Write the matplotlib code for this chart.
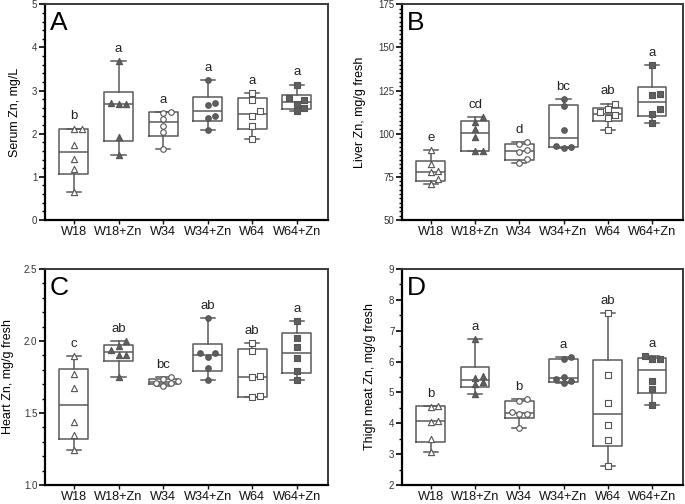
import numpy as np
import matplotlib
matplotlib.use("Agg")
import matplotlib.pyplot as plt
from matplotlib.ticker import MultipleLocator

plt.rcParams["font.family"] = ["Liberation Sans", "DejaVu Sans"]

groups = ["W18", "W18+Zn", "W34", "W34+Zn", "W64", "W64+Zn"]

# values (6 birds per group)
serum = [
    [0.66, 1.19, 1.42, 1.73, 2.10, 2.12],
    [1.51, 1.93, 2.69, 2.70, 2.72, 3.69],
    [1.64, 2.04, 2.19, 2.35, 2.49, 2.51],
    [2.09, 2.37, 2.40, 2.67, 2.72, 3.25],
    [1.87, 2.18, 2.40, 2.53, 2.78, 2.95],
    [2.52, 2.60, 2.69, 2.79, 2.82, 3.14],
]
serum_letters = ["b", "a", "a", "a", "a", "a"]

liver = [
    [70.6, 73.5, 77.8, 78.2, 82.3, 90.8],
    [89.9, 90.0, 98.2, 103.0, 106.7, 109.6],
    [83.3, 85.2, 89.6, 90.7, 93.8, 95.3],
    [92.0, 92.1, 93.0, 102.2, 115.8, 120.0],
    [102.1, 109.0, 111.0, 112.4, 114.2, 117.5],
    [106.3, 111.7, 114.1, 122.3, 122.9, 139.7],
]
liver_letters = ["e", "cd", "d", "bc", "ab", "a"]

heart = [
    [1.243, 1.347, 1.44, 1.671, 1.771, 1.896],
    [1.752, 1.90, 1.905, 1.938, 1.967, 2.0],
    [1.685, 1.705, 1.71, 1.72, 1.735, 1.75],
    [1.729, 1.810, 1.891, 1.915, 1.919, 2.162],
    [1.612, 1.615, 1.748, 1.757, 1.93, 1.988],
    [1.729, 1.794, 1.88, 1.96, 2.023, 2.141],
]
heart_letters = ["c", "ab", "bc", "ab", "ab", "a"]

thigh = [
    [3.08, 3.48, 4.05, 4.07, 4.54, 4.57],
    [4.94, 5.26, 5.33, 5.48, 5.53, 6.73],
    [3.84, 4.30, 4.31, 4.38, 4.72, 4.78],
    [5.30, 5.36, 5.42, 5.50, 6.07, 6.14],
    [2.63, 3.46, 3.94, 4.67, 5.56, 7.56],
    [4.59, 5.11, 5.38, 6.07, 6.09, 6.18],
]
thigh_letters = ["b", "a", "b", "a", "ab", "a"]

panels = [
    dict(tag="A", data=serum, letters=serum_letters, label="Serum Zn, mg/L",
         ylim=(0, 5), major=1, minor=0.2, fmt="{:.0f}",
         rect=[45, 4.3, 328, 220], labx=-0.085),
    dict(tag="B", data=liver, letters=liver_letters, label="Liver Zn, mg/g fresh",
         ylim=(50, 175), major=25, minor=2.5, fmt="{:.0f}",
         rect=[402, 4.3, 683, 220], labx=-0.128),
    dict(tag="C", data=heart, letters=heart_letters, label="Heart Zn, mg/g fresh",
         ylim=(1.0, 2.5), major=0.5, minor=0.1, fmt="{:.1f}",
         rect=[45, 269, 328, 485], labx=-0.111),
    dict(tag="D", data=thigh, letters=thigh_letters, label="Thigh meat Zn, mg/g fresh",
         ylim=(2, 9), major=1, minor=0.5, fmt="{:.0f}",
         rect=[402, 269, 683, 485], labx=-0.094),
]

markers = ["^", "^", "o", "o", "s", "s"]
msizes = [20, 20, 16, 16, 14, 14]
faces = ["white", "#5f5f5f", "white", "#5f5f5f", "white", "#5f5f5f"]
line_col = "#5a5a5a"

W, H = 685, 504
fig = plt.figure(figsize=(W / 100, H / 100), dpi=100)


def swarm(vals, xpx, ypx, step=0.17, dist=6.0):
    # simple beeswarm: centre first, then right, then left
    offs = np.zeros(len(vals))
    placed = []
    for i in np.argsort(vals):
        for k in [0, 1, -1, 2, -2, 3, -3]:
            dx = k * step
            ok = all(np.hypot((dx - px) * xpx, (vals[i] - py) * ypx) >= dist
                     for px, py in placed)
            if ok:
                break
        offs[i] = dx
        placed.append((dx, vals[i]))
    return offs


for p in panels:
    x0, y0, x1, y1 = p["rect"]
    ax = fig.add_axes([x0 / W, 1 - y1 / H, (x1 - x0) / W, (y1 - y0) / H])
    lo, hi = p["ylim"]
    rng = hi - lo
    pos = np.arange(len(groups))
    xlim = (-0.65, 5.7)

    stats = []
    for g, vals in zip(groups, p["data"]):
        v = np.array(vals)
        q1, med, q3 = np.percentile(v, [25, 50, 75], method="weibull")
        stats.append(dict(label=g, med=med, q1=q1, q3=q3,
                          whislo=v.min(), whishi=v.max(), fliers=[]))
    ax.bxp(stats, positions=pos, widths=0.65, capwidths=0.32, showfliers=False,
           boxprops=dict(color=line_col, lw=1.1),
           whiskerprops=dict(color=line_col, lw=1.1),
           capprops=dict(color=line_col, lw=1.1),
           medianprops=dict(color=line_col, lw=1.1))

    xpx = (x1 - x0) / (xlim[1] - xlim[0])
    ypx = (y1 - y0) / rng
    for i, vals in enumerate(p["data"]):
        v = np.array(vals)
        offs = swarm(v, xpx, ypx)
        ax.scatter(pos[i] + offs, v, marker=markers[i], s=msizes[i],
                   facecolor=faces[i], edgecolor="#555555", linewidth=0.8,
                   zorder=3)
        ax.text(pos[i], v.max() + 0.056 * rng, p["letters"][i], ha="center",
                va="center", fontsize=9.5, color="#222222")

    ax.set_xlim(*xlim)
    ax.set_ylim(lo, hi)
    ax.set_xticks(pos)
    ax.set_xticklabels(groups, fontsize=9.2)
    ax.yaxis.set_major_locator(MultipleLocator(p["major"]))
    ax.yaxis.set_minor_locator(MultipleLocator(p["minor"]))
    ax.set_yticklabels([p["fmt"].format(t) for t in ax.get_yticks()])
    ax.tick_params(axis="y", which="major", length=4, width=1.2, labelsize=7,
                   pad=1.5, labelcolor="#333333")
    ax.tick_params(axis="y", which="minor", length=2.5, width=1.0)
    ax.tick_params(axis="x", length=3, width=1.0, pad=1.2, colors="#111111")
    for s in ["left", "bottom"]:
        ax.spines[s].set_linewidth(1.6)
        ax.spines[s].set_color("black")
    for s in ["top", "right"]:
        ax.spines[s].set_linewidth(1.4)
        ax.spines[s].set_color("#3a3a3a")
    ax.set_ylabel(p["label"], fontsize=9)
    ax.yaxis.set_label_coords(p["labx"], 0.5)
    ax.text(0.018, 0.968, p["tag"], transform=ax.transAxes, fontsize=19,
            ha="left", va="top")

fig.savefig("out.png", dpi=100)
